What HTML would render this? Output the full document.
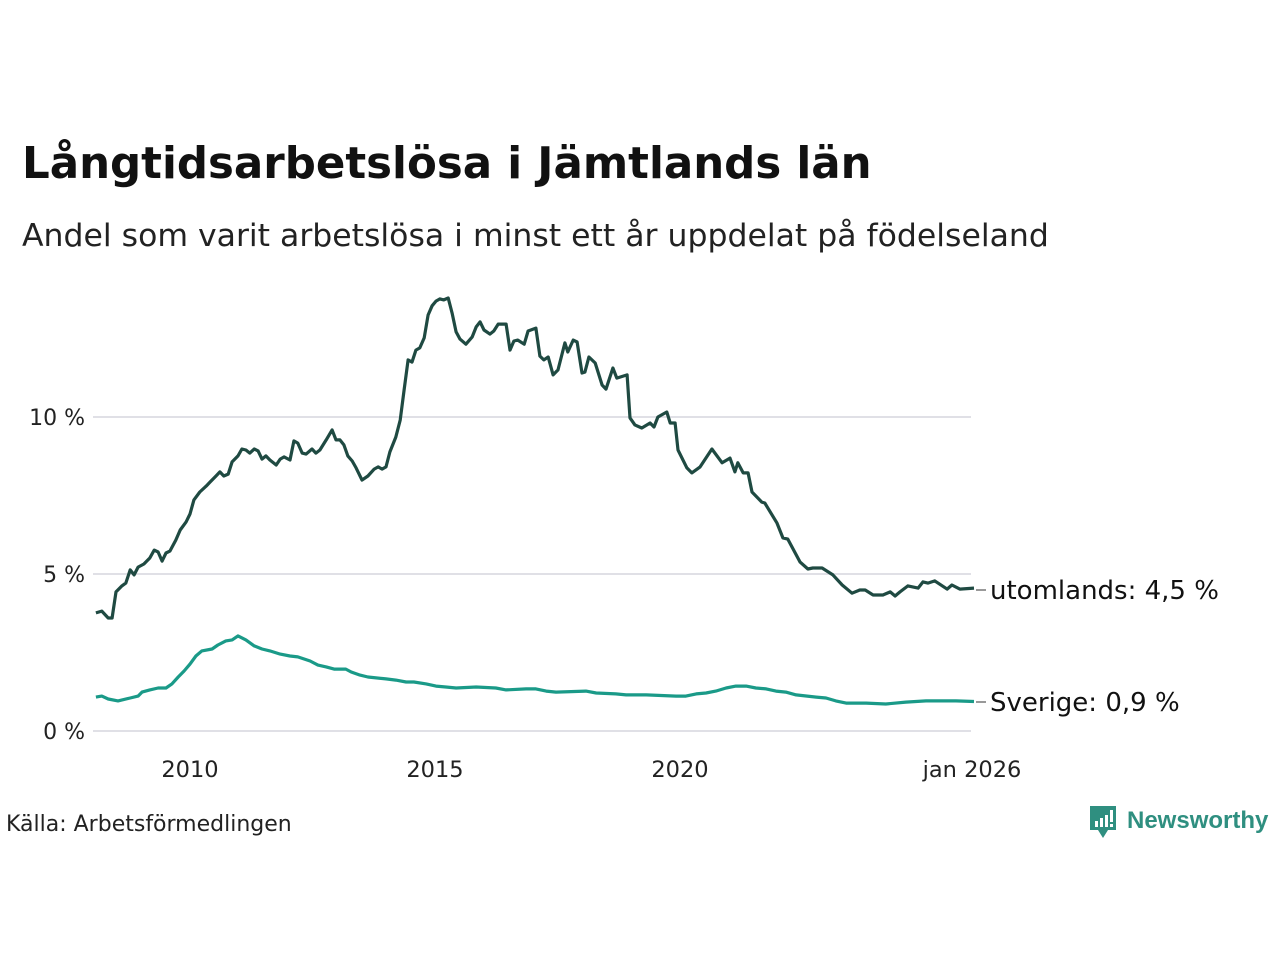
<!DOCTYPE html>
<html><head><meta charset="utf-8">
<style>
body{margin:0;background:#fff;width:1280px;height:960px;overflow:hidden;font-family:"Liberation Sans","DejaVu Sans",sans-serif;}
svg{position:absolute;left:0;top:0}
</style></head>
<body>
<svg width="1280" height="960">
<text x="22" y="178" font-size="43.5" font-weight="bold" fill="#111" font-family="DejaVu Sans, sans-serif">Långtidsarbetslösa i Jämtlands län</text>
<text x="22" y="246" font-size="31.5" fill="#222" font-family="DejaVu Sans, sans-serif">Andel som varit arbetslösa i minst ett år uppdelat på födelseland</text>
<g id="grid"></g>
<g id="lines"></g>
<g id="labels"></g>
<text x="6" y="831" font-size="22" fill="#222" font-family="DejaVu Sans, sans-serif">Källa: Arbetsförmedlingen</text>
<g>
<path d="M1090 806 h26 v24 h-8 l-5 8 l-5 -8 h-8 z" fill="#2f8f80"/>
<rect x="1095" y="821" width="3" height="6" fill="#fff"/><rect x="1100" y="818" width="3" height="9" fill="#fff"/><rect x="1105" y="815" width="3" height="12" fill="#fff"/><rect x="1110" y="810" width="3" height="12" fill="#fff"/><rect x="1110" y="824" width="3" height="3" fill="#fff"/>
<text x="1127" y="828" font-size="24" fill="#2f8f80" font-weight="bold" font-family="Liberation Sans, sans-serif">Newsworthy</text>
</g>
</svg>
<script>
const yTicks=[0,5,10];
const yTickLabels=["0 %","5 %","10 %"];
const xTicks=[2010,2015,2020,2026];
const xTickLabels=["2010","2015","2020","jan 2026"];
const abroadYears=[2008.08,2008.20,2008.33,2008.41,2008.49,2008.61,2008.69,2008.78,2008.86,2008.94,2009.06,2009.18,2009.27,2009.35,2009.43,2009.51,2009.59,2009.71,2009.80,2009.92,2010.00,2010.08,2010.20,2010.33,2010.41,2010.53,2010.61,2010.69,2010.78,2010.86,2010.98,2011.06,2011.14,2011.22,2011.31,2011.39,2011.47,2011.55,2011.63,2011.76,2011.84,2011.92,2012.04,2012.12,2012.20,2012.29,2012.37,2012.49,2012.57,2012.65,2012.78,2012.90,2012.98,2013.06,2013.14,2013.22,2013.31,2013.39,2013.51,2013.63,2013.76,2013.84,2013.92,2014.00,2014.08,2014.20,2014.29,2014.37,2014.45,2014.53,2014.61,2014.69,2014.78,2014.86,2014.94,2015.02,2015.10,2015.18,2015.27,2015.35,2015.43,2015.51,2015.63,2015.76,2015.84,2015.92,2016.00,2016.12,2016.20,2016.29,2016.45,2016.53,2016.61,2016.69,2016.82,2016.90,2017.06,2017.14,2017.22,2017.31,2017.41,2017.51,2017.65,2017.71,2017.82,2017.90,2018.00,2018.06,2018.14,2018.27,2018.41,2018.49,2018.63,2018.71,2018.92,2018.98,2019.08,2019.22,2019.39,2019.47,2019.55,2019.73,2019.80,2019.90,2019.96,2020.14,2020.24,2020.41,2020.65,2020.86,2021.02,2021.12,2021.18,2021.29,2021.39,2021.47,2021.67,2021.73,2021.98,2022.10,2022.20,2022.45,2022.61,2022.71,2022.90,2023.12,2023.31,2023.51,2023.67,2023.78,2023.94,2024.14,2024.29,2024.39,2024.49,2024.65,2024.86,2024.96,2025.06,2025.20,2025.45,2025.55,2025.71,2026.00];
const abroadValues=[3.76,3.82,3.60,3.60,4.43,4.62,4.71,5.13,4.97,5.22,5.32,5.51,5.76,5.70,5.41,5.67,5.73,6.08,6.40,6.66,6.91,7.36,7.61,7.80,7.93,8.12,8.25,8.12,8.18,8.57,8.76,8.98,8.95,8.85,8.98,8.92,8.66,8.76,8.63,8.47,8.66,8.73,8.63,9.24,9.17,8.85,8.82,8.98,8.85,8.95,9.27,9.59,9.27,9.27,9.11,8.76,8.60,8.38,7.99,8.12,8.34,8.41,8.34,8.41,8.89,9.36,9.90,10.86,11.82,11.75,12.13,12.20,12.52,13.25,13.54,13.69,13.76,13.73,13.79,13.31,12.71,12.48,12.32,12.55,12.87,13.03,12.77,12.64,12.74,12.96,12.96,12.13,12.42,12.45,12.32,12.74,12.83,11.94,11.82,11.91,11.34,11.50,12.36,12.07,12.45,12.39,11.40,11.43,11.91,11.72,11.02,10.89,11.56,11.24,11.34,9.97,9.75,9.65,9.81,9.68,10.00,10.16,9.81,9.81,8.95,8.38,8.22,8.41,8.98,8.54,8.69,8.25,8.54,8.22,8.22,7.61,7.29,7.26,6.62,6.15,6.11,5.38,5.16,5.19,5.19,4.97,4.65,4.39,4.49,4.49,4.33,4.33,4.43,4.30,4.43,4.62,4.55,4.75,4.71,4.78,4.52,4.65,4.52,4.55];
const swedenYears=[2008.08,2008.20,2008.33,2008.53,2008.78,2008.94,2009.02,2009.18,2009.35,2009.51,2009.63,2009.76,2009.88,2010.00,2010.12,2010.24,2010.45,2010.57,2010.73,2010.86,2010.98,2011.14,2011.31,2011.47,2011.63,2011.84,2012.04,2012.20,2012.45,2012.61,2012.78,2012.94,2013.18,2013.29,2013.47,2013.63,2014.00,2014.20,2014.41,2014.57,2014.82,2015.02,2015.22,2015.43,2015.84,2016.24,2016.45,2016.86,2017.06,2017.27,2017.47,2018.08,2018.29,2018.69,2018.90,2019.31,2019.92,2020.12,2020.33,2020.53,2020.73,2020.94,2021.14,2021.35,2021.55,2021.76,2021.96,2022.16,2022.37,2022.78,2022.98,2023.18,2023.39,2023.80,2024.20,2024.61,2025.02,2025.63,2026.00];
const swedenValues=[1.08,1.11,1.02,0.96,1.05,1.11,1.24,1.31,1.37,1.37,1.50,1.72,1.91,2.13,2.39,2.55,2.61,2.74,2.87,2.90,3.03,2.90,2.71,2.61,2.55,2.45,2.39,2.36,2.23,2.10,2.04,1.97,1.97,1.88,1.78,1.72,1.66,1.62,1.56,1.56,1.50,1.43,1.40,1.37,1.40,1.37,1.31,1.34,1.34,1.27,1.24,1.27,1.21,1.18,1.15,1.15,1.11,1.11,1.18,1.21,1.27,1.37,1.43,1.43,1.37,1.34,1.27,1.24,1.15,1.08,1.05,0.96,0.89,0.89,0.86,0.92,0.96,0.96,0.94];
const seriesLabels=["utomlands: 4,5 %","Sverige: 0,9 %"];

const NS="http://www.w3.org/2000/svg";
const xs=t=>190+(t-2010)*49;
const ys=v=>731-v*31.4;
function mk(tag,attrs,parent){const e=document.createElementNS(NS,tag);for(const k in attrs)e.setAttribute(k,attrs[k]);parent.appendChild(e);return e;}
const grid=document.getElementById('grid'),lines=document.getElementById('lines'),labels=document.getElementById('labels');
yTicks.forEach((v,i)=>{
  const l=mk('line',{x1:93,x2:971,y1:ys(v),y2:ys(v),stroke:'#e0e0e6','stroke-width':2},grid);
  
  
  const t=mk('text',{x:85,y:ys(v)+8,'text-anchor':'end','font-size':22,fill:'#222','font-family':'DejaVu Sans, sans-serif'},grid);
  t.textContent=yTickLabels[i];
  
  
});
xTicks.forEach((v,i)=>{
  const t=mk('text',{x:xs(v)-(i==3?2:0),y:777,'text-anchor':'middle','font-size':22.5,fill:'#222','font-family':'DejaVu Sans, sans-serif'},grid);
  t.textContent=xTickLabels[i];
  
  
});
function drawLine(years,vals,color,name){
  const d=years.map((t,i)=>(i?'L':'M')+xs(t).toFixed(1)+' '+ys(vals[i]).toFixed(1)).join(' ');
  const p=mk('path',{d:d,fill:'none',stroke:color,'stroke-width':3.2,'stroke-linejoin':'round'},lines);
  
  
}
drawLine(swedenYears,swedenValues,'#1a9a88','line-sverige');
drawLine(abroadYears,abroadValues,'#1f4a42','line-utomlands');
[[abroadValues,abroadYears],[swedenValues,swedenYears]].forEach((s,i)=>{
  const ly=i==0?590:702;
  const l=mk('line',{x1:976,x2:986,y1:ly,y2:ly,stroke:'#555','stroke-width':1.2},labels);
  
  
  const t=mk('text',{x:990,y:ly+9,'font-size':26,fill:'#111','font-family':'DejaVu Sans, sans-serif'},labels);
  t.textContent=seriesLabels[i];
  
  
});
</script>
</body></html>
